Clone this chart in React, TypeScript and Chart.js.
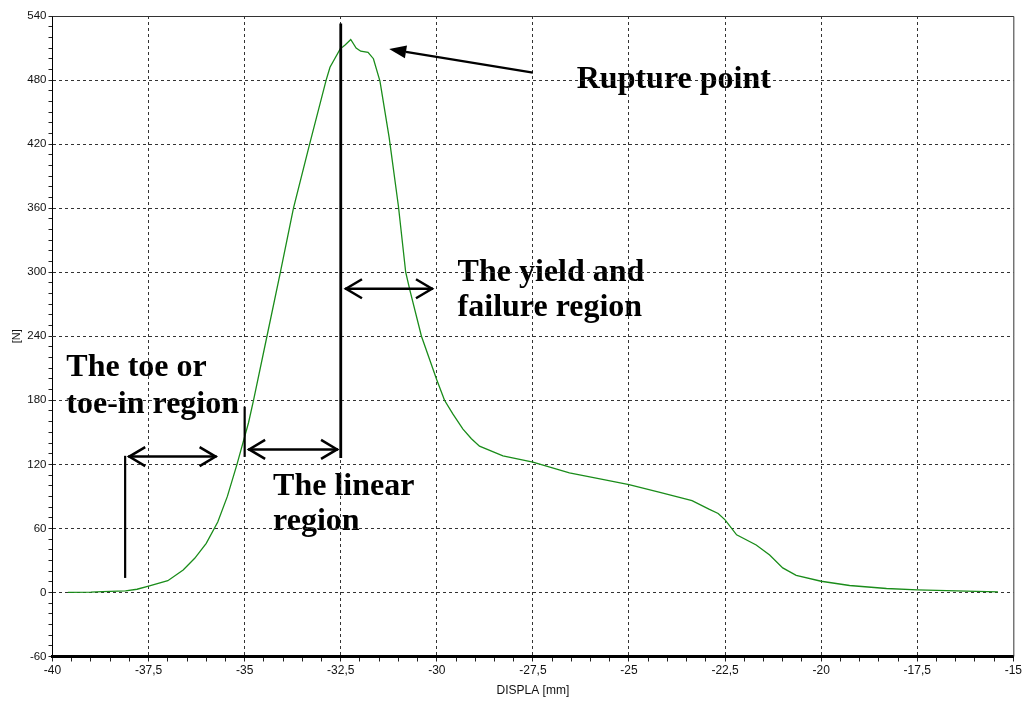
import React, { useEffect, useRef } from 'react';
import { Chart, registerables } from 'chart.js';

Chart.register(...registerables);

// ---- data ----
const displacement = [
  -39.6, -39.0, -38.7, -38.1, -37.8, -37.5, -37.0, -36.6, -36.3, -36.0,
  -35.7, -35.45, -35.2, -34.9, -34.77, -34.42, -34.07, -33.9, -33.73, -33.31,
  -32.88, -32.78, -32.5, -32.45, -32.38, -32.24, -32.1, -31.98, -31.79, -31.65,
  -31.48, -31.24, -31.0, -30.81, -30.7, -30.4, -30.0, -29.8, -29.58, -29.32,
  -29.1, -28.89, -28.28, -27.5, -26.55, -25.69, -25.0, -24.22, -23.36, -22.92,
  -22.68, -22.5, -22.2, -21.69, -21.34, -21.0, -20.65, -20.0, -19.26, -18.3,
  -17.5, -16.22, -15.4,
];
const force = [
  0, 0.3, 0.8, 1.5, 3, 6, 11, 21, 32, 46,
  66, 90, 120, 159, 180, 240, 300, 330, 360, 420,
  480, 492, 510, 511, 513, 518, 510, 507, 506, 500,
  479, 426, 362, 300, 283, 240, 199, 180, 167, 153,
  144, 137, 128, 122, 112, 106, 101, 94, 86, 78,
  74, 68, 54, 44.5, 35, 23, 16, 10.5, 6.5, 3.7,
  2.5, 1.3, 0.6,
];

const xMin = -40;
const xMax = -15;
const xMinorStep = 0.5;
const xMajorStep = 2.5;
const yMin = -60;
const yMax = 540;
const yMinorStep = 10;
const yMajorStep = 60;

const xTitle = 'DISPLA [mm]';
const yTitle = '[N]';

// annotation texts (positions in data units)
const labelRupture = ['Rupture point'];
const labelYield = ['The yield and', 'failure region'];
const labelToe = ['The toe or', 'toe-in region'];
const labelLinear = ['The linear', 'region'];

const isMult = (v: number, step: number) => Math.abs(v / step - Math.round(v / step)) < 1e-6;
const fmtX = (v: number) => String(Math.round(v * 10) / 10).replace('.', ',');

const annotationPlugin = {
  id: 'annotations',
  beforeDraw(chart: any) {
    const { ctx, scales } = chart;
    const X = (v: number) => scales.x.getPixelForValue(v);
    const Y = (v: number) => scales.y.getPixelForValue(v);
    ctx.save();
    ctx.fillStyle = '#000';
    ctx.font = 'bold 32px "Liberation Serif", "Times New Roman", serif';
    ctx.textBaseline = 'alphabetic';
    ctx.textAlign = 'left';
    const lines = (arr: string[], x: number, y0: number, dy: number) => {
      arr.forEach((t, i) => ctx.fillText(t, X(x), Y(y0) + i * dy));
    };
    lines(labelRupture, -26.36, 473, 36);
    lines(labelYield, -29.46, 292, 35.5);
    lines(labelToe, -39.64, 203, 37);
    lines(labelLinear, -34.26, 91.4, 35);
    ctx.restore();
  },
  afterDatasetsDraw(chart: any) {
    const { ctx, scales, chartArea } = chart;
    const X = (v: number) => scales.x.getPixelForValue(v);
    const Y = (v: number) => scales.y.getPixelForValue(v);
    ctx.save();
    // top and right frame
    ctx.strokeStyle = '#333';
    ctx.lineWidth = 1;
    ctx.beginPath();
    ctx.moveTo(chartArea.left, chartArea.top + 0.5);
    ctx.lineTo(chartArea.right + 0.5, chartArea.top + 0.5);
    ctx.lineTo(chartArea.right + 0.5, chartArea.bottom);
    ctx.stroke();

    ctx.strokeStyle = '#000';
    ctx.fillStyle = '#000';
    const vline = (x: number, y1: number, y2: number, w: number) => {
      ctx.lineWidth = w;
      ctx.beginPath();
      ctx.moveTo(X(x), Y(y1));
      ctx.lineTo(X(x), Y(y2));
      ctx.stroke();
    };
    const dblArrow = (x1: number, x2: number, y: number) => {
      const px1 = X(x1), px2 = X(x2), py = Y(y);
      const len = 17, half = 9.5;
      ctx.lineWidth = 2.5;
      ctx.lineCap = 'butt';
      ctx.lineJoin = 'miter';
      ctx.beginPath();
      ctx.moveTo(px1, py);
      ctx.lineTo(px2, py);
      ctx.stroke();
      ctx.beginPath();
      ctx.moveTo(px1 + len, py - half);
      ctx.lineTo(px1 + 1, py);
      ctx.lineTo(px1 + len, py + half);
      ctx.stroke();
      ctx.beginPath();
      ctx.moveTo(px2 - len, py - half);
      ctx.lineTo(px2 - 1, py);
      ctx.lineTo(px2 - len, py + half);
      ctx.stroke();
    };
    vline(-32.5, 126, 533, 2.8);
    vline(-38.11, 13.6, 128, 2.2);
    vline(-35.0, 127, 174, 2.2);
    dblArrow(-38.03, -35.73, 127.3);
    dblArrow(-34.91, -32.57, 134);
    dblArrow(-32.39, -30.1, 284.5);

    // rupture arrow with filled head
    const fx = X(-27.5), fy = Y(487), tx = X(-31.24), ty = Y(509);
    const ang = Math.atan2(ty - fy, tx - fx);
    const hl = 17, hw = 6.5;
    const bx = tx - hl * Math.cos(ang), by = ty - hl * Math.sin(ang);
    ctx.lineWidth = 2.2;
    ctx.beginPath();
    ctx.moveTo(fx, fy);
    ctx.lineTo(bx, by);
    ctx.stroke();
    ctx.beginPath();
    ctx.moveTo(tx, ty);
    ctx.lineTo(bx + hw * Math.sin(ang), by - hw * Math.cos(ang));
    ctx.lineTo(bx - hw * Math.sin(ang), by + hw * Math.cos(ang));
    ctx.closePath();
    ctx.fill();
    ctx.restore();
  },
};

export default function App() {
  const ref = useRef<HTMLCanvasElement | null>(null);
  useEffect(() => {
    document.body.style.margin = '0';
    const points = displacement.map((x, i) => ({ x, y: force[i] }));
    const tickFont = { family: 'Arial, "Liberation Sans", sans-serif', size: 11.5 };
    const chart = new Chart(ref.current as HTMLCanvasElement, {
      type: 'line',
      data: {
        datasets: [
          {
            data: points,
            borderColor: '#1a8c1a',
            borderWidth: 1.3,
            pointRadius: 0,
            tension: 0,
            fill: false,
          },
        ],
      },
      options: {
        animation: false,
        responsive: true,
        maintainAspectRatio: false,
        parsing: false,
        layout: { padding: { top: 16, right: 10, left: 0, bottom: 0 } },
        plugins: { legend: { display: false }, tooltip: { enabled: false } },
        scales: {
          x: {
            type: 'linear',
            min: xMin,
            max: xMax,
            afterFit: (s: any) => { s.height = 49.5; },
            afterBuildTicks: (s: any) => {
              const t = [];
              for (let v = xMin; v <= xMax + 1e-9; v += xMinorStep) t.push({ value: Math.round(v * 10) / 10 });
              s.ticks = t;
            },
            ticks: {
              autoSkip: false,
              maxRotation: 0,
              padding: 2,
              color: '#111',
              font: { ...tickFont, size: 12 },
              callback: (v: any) => (isMult(Number(v), xMajorStep) ? fmtX(Number(v)) : ''),
            },
            grid: {
              color: (c: any) => {
                const v = c.tick ? c.tick.value : 0;
                return isMult(v, xMajorStep) && v > xMin && v < xMax ? '#333' : 'rgba(0,0,0,0)';
              },
              lineWidth: 1,
              tickLength: 5,
              tickColor: '#222',
              tickWidth: 1,
            },
            border: { display: true, color: '#000', width: 3, dash: [3, 3] },
            title: {
              display: true,
              text: xTitle,
              color: '#111',
              font: { family: 'Arial, "Liberation Sans", sans-serif', size: 12 },
              padding: { top: 0, bottom: 8 },
            },
          },
          y: {
            type: 'linear',
            min: yMin,
            max: yMax,
            afterFit: (s: any) => { s.width = 52.5; },
            afterBuildTicks: (s: any) => {
              const t = [];
              for (let v = yMin; v <= yMax; v += yMinorStep) t.push({ value: v });
              s.ticks = t;
            },
            ticks: {
              autoSkip: false,
              padding: 2,
              color: '#111',
              font: tickFont,
              callback: (v: any) => (isMult(Number(v), yMajorStep) ? String(v) : ''),
            },
            grid: {
              color: (c: any) => {
                const v = c.tick ? c.tick.value : 0;
                return isMult(v, yMajorStep) && v > yMin && v < yMax ? '#333' : 'rgba(0,0,0,0)';
              },
              lineWidth: 1,
              tickLength: 4,
              tickColor: '#222',
              tickWidth: 1,
            },
            border: { display: true, color: '#000', width: 1, dash: [3, 3] },
            title: {
              display: true,
              text: yTitle,
              color: '#111',
              font: { family: 'Arial, "Liberation Sans", sans-serif', size: 11 },
              padding: { top: 10, bottom: 0 },
            },
          },
        },
      },
      plugins: [annotationPlugin],
    } as any);
    return () => chart.destroy();
  }, []);
  return (
    <div style={{ position: 'absolute', left: 0, top: 0, width: 1024, height: 706, background: '#fff' }}>
      <canvas ref={ref} />
    </div>
  );
}
